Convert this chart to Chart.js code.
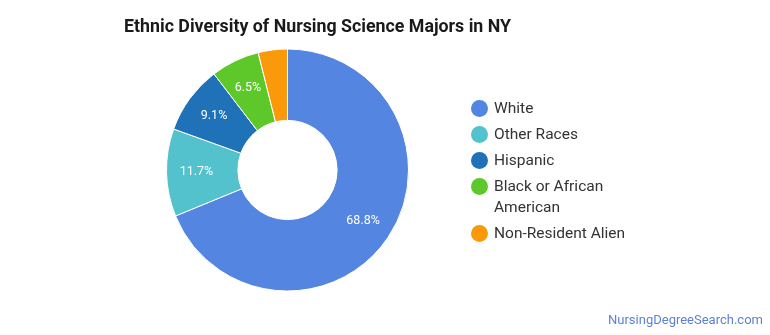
<!DOCTYPE html>
<html lang="en">
<head>
<meta charset="UTF-8">
<title>Ethnic Diversity of Nursing Science Majors in NY</title>
<script src="https://cdn.jsdelivr.net/npm/chart.js"></script>
<style>
  body { margin: 0; background: #fff; font-family: Roboto, "Noto Sans", sans-serif; }
  #wrap { position: relative; width: 770px; height: 335px; overflow: hidden; }
  #title { position: absolute; left: 124px; top: 15px; font-size: 17.8px; font-weight: bold; color: #1a1a1a; }
  #legend { position: absolute; left: 471px; top: 98px; width: 160px; }
  .item { position: relative; padding-left: 23px; font-size: 15.5px; line-height: 21px; color: #333; margin-bottom: 5px; }
  .dot { position: absolute; left: 0; top: 2px; width: 17px; height: 17px; border-radius: 50%; }
  #footer { position: absolute; right: 7px; top: 312px; font-size: 13px; color: #5b82d6; }
  canvas { position: absolute; left: 0; top: 0; }
</style>
</head>
<body>
<div id="wrap">
  <canvas id="chart" width="770" height="335"></canvas>
  <div id="title">Ethnic Diversity of Nursing Science Majors in NY</div>
  <div id="legend"></div>
  <div id="footer">NursingDegreeSearch.com</div>
</div>

<script>
var labels = ['White', 'Other Races', 'Hispanic', 'Black or African American', 'Non-Resident Alien'];
var shares = [68.8, 11.7, 9.1, 6.5, 3.9];
var colors = ['#5485e0', '#53c2cd', '#1f71b8', '#5ec82a', '#fa9a0b'];

// white percent text in the middle of each big enough slice
var sliceLabels = {
    id: 'sliceLabels',
    afterDatasetsDraw: function (chart) {
        var ctx = chart.ctx;
        var meta = chart.getDatasetMeta(0);
        ctx.save();
        ctx.fillStyle = '#fff';
        ctx.font = '12.5px Roboto, sans-serif';
        ctx.textAlign = 'center';
        ctx.textBaseline = 'middle';
        meta.data.forEach(function (arc, i) {
            if (shares[i] < 5) return;
            var p = arc.getProps(['x', 'y', 'startAngle', 'endAngle', 'innerRadius', 'outerRadius'], true);
            var a = (p.startAngle + p.endAngle) / 2;
            var r = p.innerRadius + 0.58 * (p.outerRadius - p.innerRadius);
            ctx.fillText(shares[i].toFixed(1) + '%', p.x + Math.cos(a) * r, p.y + Math.sin(a) * r);
        });
        ctx.restore();
    }
};

function init() {
    var legend = document.getElementById('legend');
    labels.forEach(function (l, i) {
        var d = document.createElement('div');
        d.className = 'item';
        d.innerHTML = '<span class="dot" style="background:' + colors[i] + '"></span>' + l;
        legend.appendChild(d);
    });

    new Chart(document.getElementById('chart'), {
        type: 'doughnut',
        data: {
            labels: labels,
            datasets: [{
                data: shares,
                backgroundColor: colors,
                borderColor: '#fff',
                borderWidth: 1
            }]
        },
        options: {
            responsive: false,
            animation: false,
            cutout: '41%',
            layout: { padding: { left: 166, right: 361, top: 48, bottom: 43 } },
            plugins: {
                legend: { display: false },
                tooltip: { enabled: false }
            }
        },
        plugins: [sliceLabels]
    });
}

document.addEventListener('DOMContentLoaded', function () {
    init();
});
</script>
</body>
</html>
